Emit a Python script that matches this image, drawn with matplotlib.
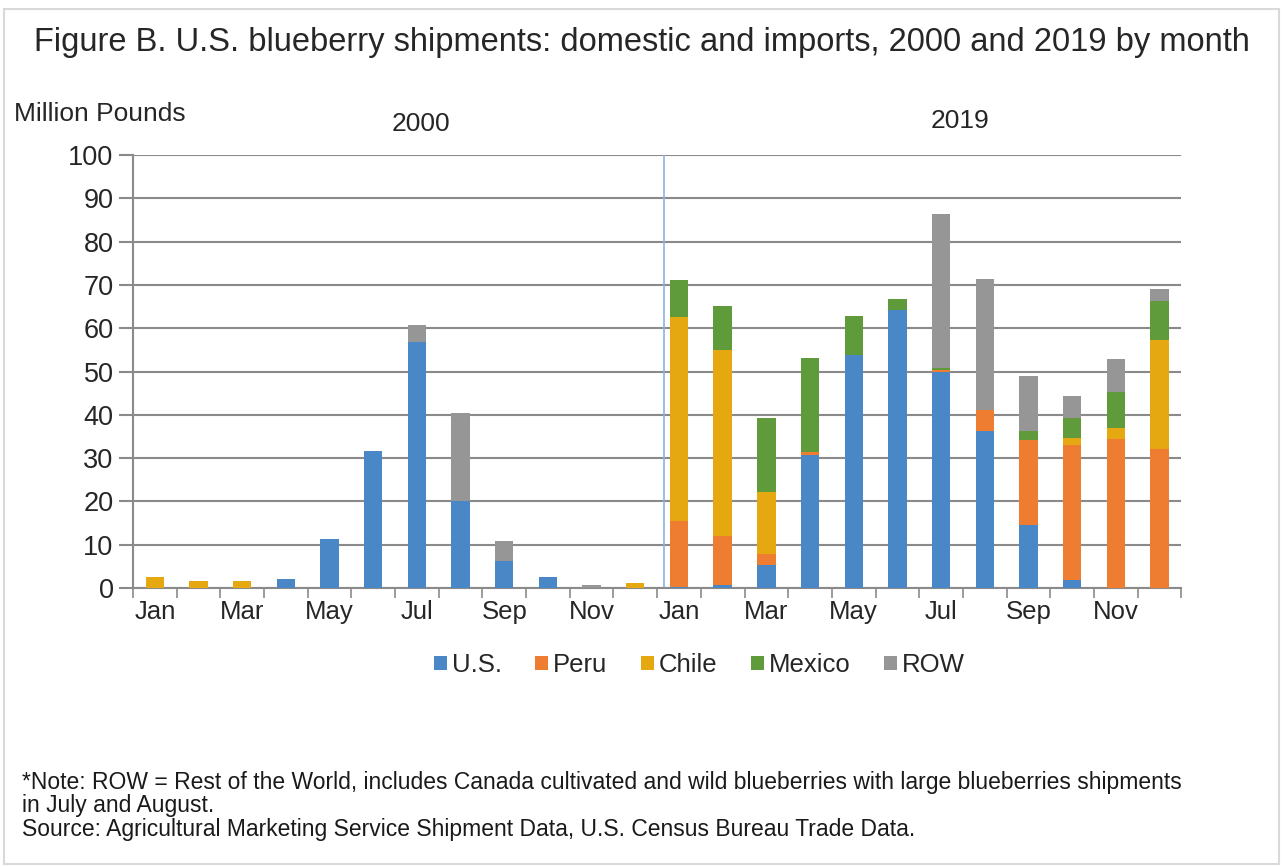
import numpy as np
import matplotlib
matplotlib.use('Agg')
import matplotlib.pyplot as plt
from matplotlib.patches import Rectangle

plt.rcParams['font.family'] = ['Liberation Sans', 'DejaVu Sans']

# Data (million pounds), 2000 Jan-Dec then 2019 Jan-Dec
months = ['Jan', 'Feb', 'Mar', 'Apr', 'May', 'Jun',
          'Jul', 'Aug', 'Sep', 'Oct', 'Nov', 'Dec']
us = [0, 0, 0, 2.0, 11.3, 31.7, 56.7, 20.0, 6.3, 2.6, 0, 0,
      0.3, 0.8, 5.2, 30.8, 53.8, 64.2, 50.0, 36.2, 14.6, 1.9, 0, 0]
peru = [0, 0, 0, 0, 0, 0, 0, 0, 0, 0, 0, 0,
        15.2, 11.3, 2.7, 0.6, 0, 0, 0.3, 4.8, 19.5, 31.2, 34.4, 32.2]
chile = [2.5, 1.7, 1.7, 0, 0, 0, 0, 0, 0, 0, 0, 1.1,
         47.2, 42.9, 14.3, 0, 0, 0, 0, 0, 0, 1.5, 2.5, 25.0]
mexico = [0, 0, 0, 0, 0, 0, 0, 0, 0, 0, 0, 0,
          8.5, 10.2, 17.0, 21.7, 9.1, 2.6, 0.4, 0, 2.2, 4.6, 8.3, 9.0]
row = [0, 0, 0, 0, 0, 0, 4.1, 20.5, 4.5, 0, 0.6, 0,
       0, 0, 0, 0, 0, 0, 35.7, 30.4, 12.7, 5.2, 7.7, 2.8]

series = [('U.S.', us, '#4a87c6'),
          ('Peru', peru, '#ee7d31'),
          ('Chile', chile, '#e6a811'),
          ('Mexico', mexico, '#5f9b3b'),
          ('ROW', row, '#969696')]

fig = plt.figure(figsize=(12.83, 8.67), dpi=100)
ax = fig.add_axes([0.1037, 0.3218, 0.817, 0.4994])

x = np.arange(len(us))
bottom = np.zeros(len(us))
for name, vals, col in series:
    vals = np.array(vals)
    ax.bar(x, vals, width=0.42, bottom=bottom, color=col, label=name, zorder=3)
    bottom += vals

ax.set_xlim(-0.5, len(us) - 0.5)
ax.set_ylim(0, 100)
ax.set_yticks(np.arange(0, 101, 10))
ax.yaxis.grid(True, color='#8a8a8a', linewidth=1.5, zorder=0)

# month labels on every other category
ax.set_xticks(x[::2])
ax.set_xticklabels(months[::2] * 2)
ax.set_xticks(np.arange(-0.5, len(us), 1), minor=True)
ax.tick_params(axis='x', which='major', length=0, labelsize=18.5, pad=9)
ax.tick_params(axis='x', which='minor', length=7, color='#8a8a8a', width=1.2)
ax.tick_params(axis='y', length=10, color='#8a8a8a', width=1.5, labelsize=19.5, pad=4)
for lab in ax.get_xticklabels() + ax.get_yticklabels():
    lab.set_color('#262626')

for s in ['top', 'right']:
    ax.spines[s].set_visible(False)
for s in ['left', 'bottom']:
    ax.spines[s].set_color('#8a8a8a')
    ax.spines[s].set_linewidth(1.5)

# divider between years
ax.axvline(11.66, color='#8fb2de', linewidth=1.2, zorder=2)

fig.text(0.5, 0.951, 'Figure B. U.S. blueberry shipments: domestic and imports, 2000 and 2019 by month',
         ha='center', va='center', fontsize=23.5, color='#262626')
fig.text(0.011, 0.869, 'Million Pounds', ha='left', va='center', fontsize=19, color='#262626')
fig.text(0.328, 0.857, '2000', ha='center', va='center', fontsize=19, color='#262626')
fig.text(0.748, 0.861, '2019', ha='center', va='center', fontsize=19, color='#262626')

leg = fig.legend(loc='center', bbox_to_anchor=(0.545, 0.233), ncol=5, frameon=False,
                 fontsize=18.5, handlelength=0.5, handleheight=0.5, handletextpad=0.2,
                 columnspacing=1.3)
for t in leg.get_texts():
    t.set_color('#262626')

fig.text(0.017, 0.097, '*Note: ROW = Rest of the World, includes Canada cultivated and wild blueberries with large blueberries shipments',
         ha='left', va='center', fontsize=16.5, color='#1a1a1a')
fig.text(0.017, 0.071, 'in July and August.', ha='left', va='center', fontsize=16.5, color='#1a1a1a')
fig.text(0.017, 0.043, 'Source: Agricultural Marketing Service Shipment Data, U.S. Census Bureau Trade Data.',
         ha='left', va='center', fontsize=16.5, color='#1a1a1a')

fig.patches.append(Rectangle((0.003, 0.004), 0.994, 0.986, transform=fig.transFigure,
                             fill=False, edgecolor='#d9d9d9', linewidth=1.5))

plt.savefig('out.png', dpi=100)
